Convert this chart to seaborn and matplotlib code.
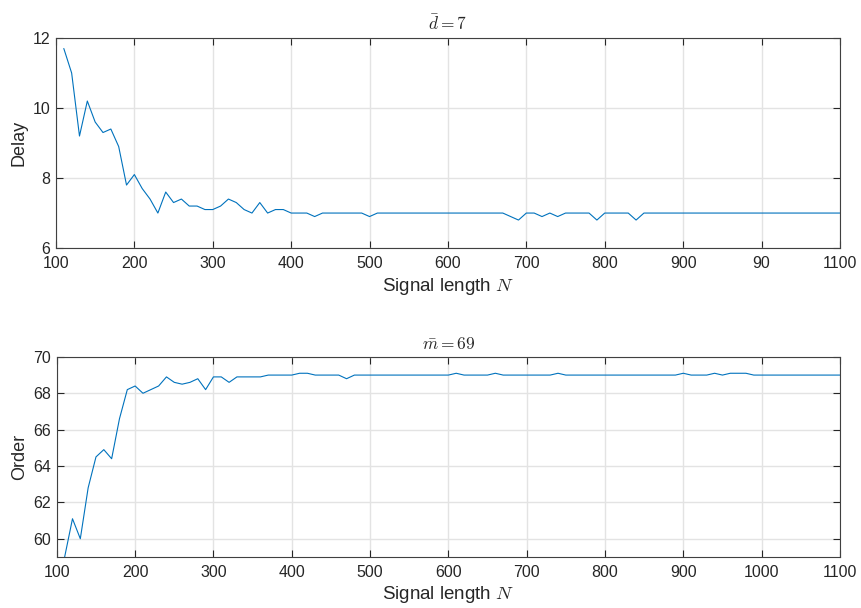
import matplotlib
matplotlib.use("Agg")
import matplotlib.pyplot as plt
import seaborn as sns
import pandas as pd

# x values: signal length N
signal_length = list(range(110, 1101, 10))

delay = [
    11.7, 11.0, 9.2, 10.2, 9.6, 9.3, 9.4, 8.9, 7.8, 8.1,
    7.7, 7.4, 7.0, 7.6, 7.3, 7.4, 7.2, 7.2, 7.1, 7.1,
    7.2, 7.4, 7.3, 7.1, 7.0, 7.3, 7.0, 7.1, 7.1, 7.0,
    7.0, 7.0, 6.9, 7.0, 7.0, 7.0, 7.0, 7.0, 7.0, 6.9,
    7.0, 7.0, 7.0, 7.0, 7.0, 7.0, 7.0, 7.0, 7.0, 7.0,
    7.0, 7.0, 7.0, 7.0, 7.0, 7.0, 7.0, 6.9, 6.8, 7.0,
    7.0, 6.9, 7.0, 6.9, 7.0, 7.0, 7.0, 7.0, 6.8, 7.0,
    7.0, 7.0, 7.0, 6.8, 7.0, 7.0, 7.0, 7.0, 7.0, 7.0,
    7.0, 7.0, 7.0, 7.0, 7.0, 7.0, 7.0, 7.0, 7.0, 7.0,
    7.0, 7.0, 7.0, 7.0, 7.0, 7.0, 7.0, 7.0, 7.0, 7.0,
]

order = [
    59.0, 61.1, 60.0, 62.8, 64.5, 64.9, 64.4, 66.6, 68.2, 68.4,
    68.0, 68.2, 68.4, 68.9, 68.6, 68.5, 68.6, 68.8, 68.2, 68.9,
    68.9, 68.6, 68.9, 68.9, 68.9, 68.9, 69.0, 69.0, 69.0, 69.0,
    69.1, 69.1, 69.0, 69.0, 69.0, 69.0, 68.8, 69.0, 69.0, 69.0,
    69.0, 69.0, 69.0, 69.0, 69.0, 69.0, 69.0, 69.0, 69.0, 69.0,
    69.1, 69.0, 69.0, 69.0, 69.0, 69.1, 69.0, 69.0, 69.0, 69.0,
    69.0, 69.0, 69.0, 69.1, 69.0, 69.0, 69.0, 69.0, 69.0, 69.0,
    69.0, 69.0, 69.0, 69.0, 69.0, 69.0, 69.0, 69.0, 69.0, 69.1,
    69.0, 69.0, 69.0, 69.1, 69.0, 69.1, 69.1, 69.1, 69.0, 69.0,
    69.0, 69.0, 69.0, 69.0, 69.0, 69.0, 69.0, 69.0, 69.0, 69.0,
]

xticks = [100, 200, 300, 400, 500, 600, 700, 800, 900, 1000, 1100]
top_xticklabels = ["100", "200", "300", "400", "500", "600", "700", "800", "900", "90", "1100"]
bottom_xticklabels = ["100", "200", "300", "400", "500", "600", "700", "800", "900", "1000", "1100"]
top_yticks = [6, 8, 10, 12]
bottom_yticks = [60, 62, 64, 66, 68, 70]

sns.set_theme(style="whitegrid")
plt.rcParams["font.family"] = ["Liberation Sans", "DejaVu Sans"]
plt.rcParams["mathtext.fontset"] = "cm"

df = pd.DataFrame({"N": signal_length, "Delay": delay, "Order": order})

fig = plt.figure(figsize=(8.61, 6.08), dpi=100)
ax1 = fig.add_axes([0.065, 0.592, 0.9105, 0.3455])
ax2 = fig.add_axes([0.066, 0.084, 0.9095, 0.329])

line_color = "#0072BD"
sns.lineplot(data=df, x="N", y="Delay", ax=ax1, color=line_color, linewidth=0.8)
sns.lineplot(data=df, x="N", y="Order", ax=ax2, color=line_color, linewidth=0.8)

setups = [
    (ax1, top_xticklabels, top_yticks, (6, 12), "Delay", r"$\bar{d}=7$"),
    (ax2, bottom_xticklabels, bottom_yticks, (59, 70), "Order", r"$\bar{m}=69$"),
]
for ax, xtl, yt, ylim, ylab, title in setups:
    ax.set_facecolor("white")
    ax.set_xlim(100, 1100)
    ax.set_ylim(*ylim)
    ax.set_xticks(xticks)
    ax.set_xticklabels(xtl)
    ax.set_yticks(yt)
    ax.grid(True, color="#e3e3e3", linewidth=1.0)
    for s in ax.spines.values():
        s.set_visible(True)
        s.set_color("#404040")
        s.set_linewidth(0.8)
    ax.tick_params(axis="both", direction="in", length=5, width=0.8, color="#262626",
                   labelsize=11.5, labelcolor="#262626", top=True, right=True,
                   bottom=True, left=True)
    ax.tick_params(axis="x", pad=6)
    ax.tick_params(axis="y", pad=4)
    ax.set_xlabel(r"Signal length $N$", fontsize=13.5, color="#262626", labelpad=3)
    ax.set_ylabel(ylab, fontsize=13, color="#262626", labelpad=4)
    ax.set_title(title, fontsize=12.5, color="#262626", pad=6)

fig.savefig("out.png", dpi=100, facecolor="white")
